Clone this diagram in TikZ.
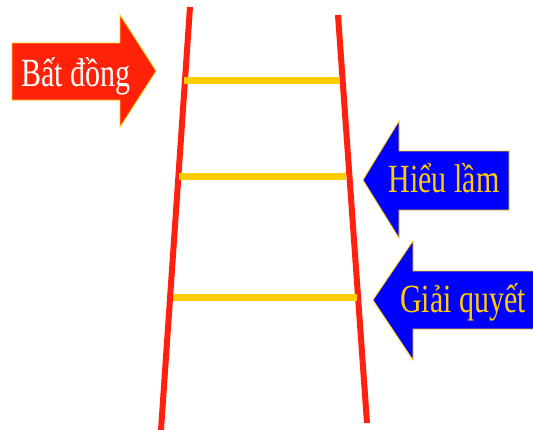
\documentclass[tikz,border=0pt]{standalone}
\usepackage{fontspec}
\setmainfont{Liberation Serif}
\definecolor{railred}{HTML}{FF2010}
\definecolor{rungyellow}{HTML}{FFCC00}
\definecolor{arrowred}{HTML}{FF2208}
\definecolor{arrowblue}{HTML}{0000FF}
\begin{document}
\begin{tikzpicture}[x=1pt,y=-1pt,
  rail/.style={draw=railred,line width=6pt},
  rung/.style={draw=rungyellow,line width=7pt},
  bigarrow/.style={draw=rungyellow,line width=0.8pt,line join=miter},
  lbl/.style={anchor=base,inner sep=0pt,font=\fontsize{40}{40}\selectfont}]
\useasboundingbox (0,0) rectangle (533,429);
% rails
\draw[rail] (190,7) -- (161,430);
\draw[rail] (338,15) -- (367,423);
% rungs
\draw[rung] (184,80) -- (340,80);
\draw[rung] (179,176) -- (346,176);
\draw[rung] (173,297) -- (357,297);
% red arrow
\draw[bigarrow,fill=arrowred] (12,43) -- (120,43) -- (120,15) -- (156,71) -- (120,127) -- (120,100) -- (12,100) -- cycle;
\node[lbl,text=white] (bat) at (76,86) {\scalebox{0.75}[1]{Bất đồng}};
% blue arrow 1
\draw[bigarrow,fill=arrowblue] (509,151) -- (399,151) -- (399,121) -- (363,180) -- (399,238) -- (399,210) -- (509,210) -- cycle;
\node[lbl,text=rungyellow] (hieu) at (444,192) {\scalebox{0.75}[1]{Hiểu lầm}};
% blue arrow 2
\draw[bigarrow,fill=arrowblue] (540,271) -- (413,271) -- (413,241) -- (373,300) -- (413,360) -- (413,329) -- (540,329) -- cycle;
\node[lbl,text=rungyellow] (giai) at (463,312) {\scalebox{0.75}[1]{Giải quyết}};
\end{tikzpicture}
\end{document}
